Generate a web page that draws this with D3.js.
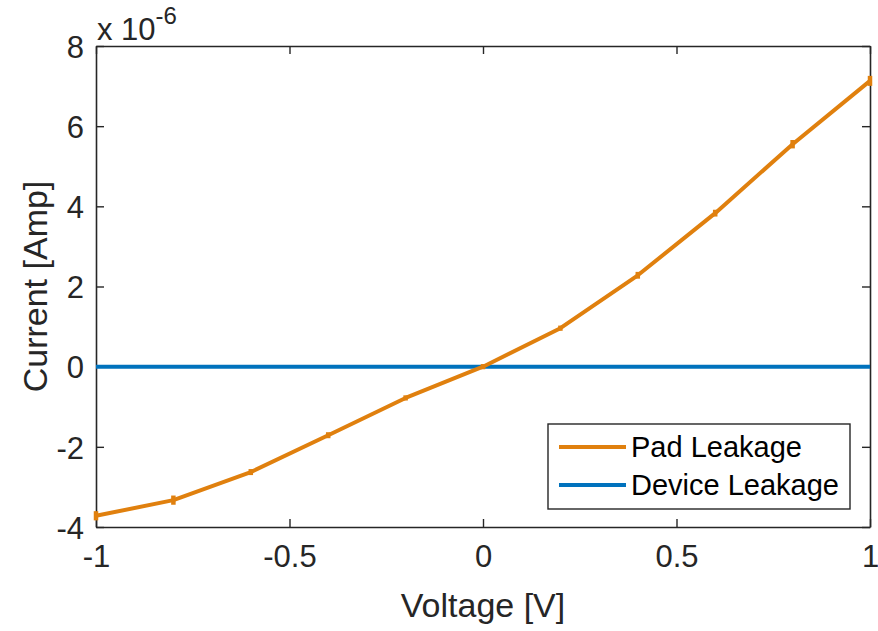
<!DOCTYPE html>
<html>
<head>
<meta charset="utf-8">
<script src="https://cdn.jsdelivr.net/npm/d3@7"></script>
<style>
  body { margin: 0; background: #fff; }
  text { font-family: "Liberation Sans", Arial, sans-serif; fill: #262626; }
</style>
</head>
<body>
<div id="chart"></div>
<script>
// sweep voltages and measured currents (units of 1e-6 A)
const voltage = [-1, -0.8, -0.6, -0.4, -0.2, 0, 0.2, 0.4, 0.6, 0.8, 1];
const padLeakage = [-3.72, -3.33, -2.63, -1.71, -0.78, 0, 0.96, 2.28, 3.83, 5.55, 7.13];
const padError = [0.09, 0.09, 0.05, 0.05, 0.04, 0.04, 0.04, 0.06, 0.06, 0.08, 0.1];
const deviceLeakage = [0, 0, 0, 0, 0, 0, 0, 0, 0, 0, 0];
const xTicks = [-1, -0.5, 0, 0.5, 1];
const yTicks = [-4, -2, 0, 2, 4, 6, 8];
const seriesNames = ["Pad Leakage", "Device Leakage"];
const seriesColors = ["#E0800E", "#0072BD"];

const width = 878, height = 631;
const margin = { left: 96, right: 8, top: 46, bottom: 104 };

const svg = d3.select("#chart").append("svg")
  .attr("width", width).attr("height", height);

const x = d3.scaleLinear().domain([-1, 1]).range([margin.left, width - margin.right]);
const y = d3.scaleLinear().domain([-4, 8]).range([height - margin.bottom, margin.top]);

const axisColor = "#262626";
const tickLen = 8;
const plain = d => String(d);  // keep ASCII hyphen for negatives

// axes with inward ticks on all four sides
const axBottom = svg.append("g").attr("transform", `translate(0,${y(-4)})`)
  .call(d3.axisBottom(x).tickValues(xTicks).tickSizeInner(-tickLen).tickSizeOuter(0).tickPadding(18).tickFormat(plain));
const axTop = svg.append("g").attr("transform", `translate(0,${y(8)})`)
  .call(d3.axisTop(x).tickValues(xTicks).tickSizeInner(-tickLen).tickSizeOuter(0).tickFormat(""));
const axLeft = svg.append("g").attr("transform", `translate(${x(-1)},0)`)
  .call(d3.axisLeft(y).tickValues(yTicks).tickSizeInner(-tickLen).tickSizeOuter(0).tickPadding(12).tickFormat(plain));
const axRight = svg.append("g").attr("transform", `translate(${x(1)},0)`)
  .call(d3.axisRight(y).tickValues(yTicks).tickSizeInner(-tickLen).tickSizeOuter(0).tickFormat(""));

[axBottom, axTop, axLeft, axRight].forEach(g => {
  g.select(".domain").attr("stroke", axisColor).attr("stroke-width", 1.6);
  g.selectAll(".tick line").attr("stroke", axisColor).attr("stroke-width", 1.4);
  g.selectAll(".tick text").style("font-size", "31px").attr("fill", axisColor)
    .style("font-family", '"Liberation Sans", Arial, sans-serif');
});
axBottom.selectAll(".tick text").attr("dy", "0.71em");
axLeft.selectAll(".tick text").attr("dy", "0.36em");

// exponent label
const expo = svg.append("text").attr("x", 97).attr("y", 40).style("font-size", "31px");
expo.append("tspan").text("x 10");
expo.append("tspan").attr("dy", -16).style("font-size", "24px").text("-6");

// axis titles
svg.append("text").attr("x", x(0)).attr("y", 617).attr("text-anchor", "middle")
  .style("font-size", "34px").text("Voltage [V]");
svg.append("text").attr("transform", `translate(47,${y(2)}) rotate(-90)`)
  .attr("text-anchor", "middle").style("font-size", "34px").text("Current [Amp]");

const line = d3.line().x(d => x(d[0])).y(d => y(d[1]));

// device leakage (flat) and pad leakage with error bars
svg.append("path").datum(voltage.map((v, i) => [v, deviceLeakage[i]]))
  .attr("d", line).attr("fill", "none").attr("stroke", seriesColors[1]).attr("stroke-width", 4);

svg.append("path").datum(voltage.map((v, i) => [v, padLeakage[i]]))
  .attr("d", line).attr("fill", "none").attr("stroke", seriesColors[0]).attr("stroke-width", 4)
  .attr("stroke-linejoin", "round");

svg.selectAll(".err").data(voltage).enter().append("line")
  .attr("class", "err")
  .attr("x1", d => x(d)).attr("x2", d => x(d))
  .attr("y1", (d, i) => y(padLeakage[i] - padError[i]) + 1)
  .attr("y2", (d, i) => y(padLeakage[i] + padError[i]) - 1)
  .attr("stroke", seriesColors[0]).attr("stroke-width", 4.5);

// legend
const lg = svg.append("g");
lg.append("rect").attr("x", 548).attr("y", 424).attr("width", 302).attr("height", 85)
  .attr("fill", "#fff").attr("stroke", axisColor).attr("stroke-width", 1.4);
seriesNames.forEach((name, i) => {
  const ly = 447 + i * 38;
  lg.append("line").attr("x1", 559).attr("x2", 626).attr("y1", ly).attr("y2", ly)
    .attr("stroke", seriesColors[i]).attr("stroke-width", 4);
  lg.append("text").attr("x", 631).attr("y", ly + 10).style("font-size", "29px")
    .style("fill", "#000").text(name);
});
</script>
</body>
</html>
